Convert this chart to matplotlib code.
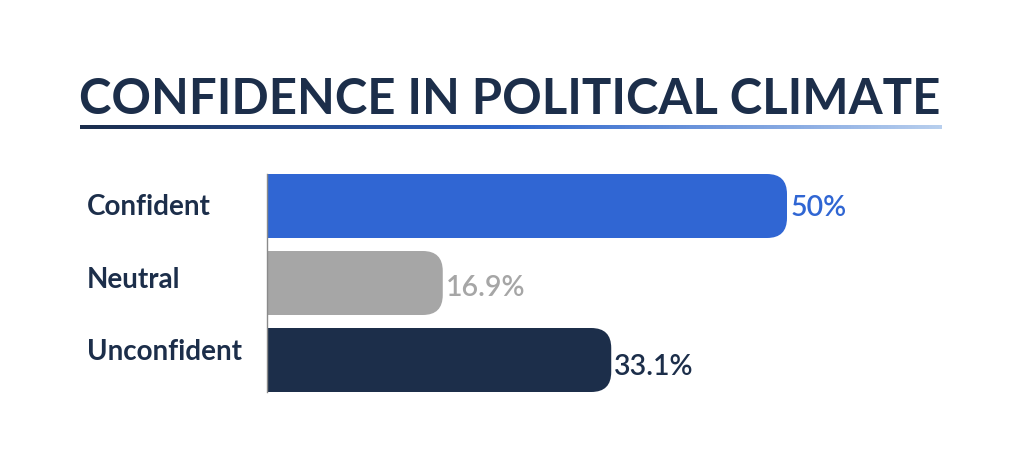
import matplotlib.pyplot as plt
import numpy as np
from matplotlib.patches import FancyBboxPatch, Rectangle
from matplotlib.colors import LinearSegmentedColormap

# data
categories = ["Confident", "Neutral", "Unconfident"]
values = [50, 16.9, 33.1]
value_labels = ["50%", "16.9%", "33.1%"]
bar_colors = ["#3066d3", "#a6a6a6", "#1c2e4a"]
navy = "#1c2e4a"

plt.rcParams['font.family'] = ['Lato', 'DejaVu Sans']

W, H = 1024, 472
fig = plt.figure(figsize=(W / 100, H / 100), dpi=100)

# title
fig.text(510 / W, 1 - 99 / H, "CONFIDENCE IN POLITICAL CLIMATE", ha="center", va="center",
         fontsize=35.3, fontweight="bold", color=navy)

# gradient underline
ax_line = fig.add_axes([80 / W, 1 - 129 / H, 862 / W, 4 / H])
cmap = LinearSegmentedColormap.from_list("ul", [(0, "#1b2d4b"), (0.5, "#2f66cc"), (1, "#b8cfee")])
ax_line.imshow(np.linspace(0, 1, 256)[None, :], aspect="auto", cmap=cmap)
ax_line.axis("off")

# bars
px_x = 520 / 50          # pixels per percent
px_y = 77                # pixels per bar slot
ax_left, ax_right = 267, 967
top, bottom = 174, 392
bar_h = 64 / 77
ax = fig.add_axes([ax_left / W, 1 - bottom / H, (ax_right - ax_left) / W, (bottom - top) / H])
ax.set_xlim(0, (ax_right - ax_left) / px_x)
ax.set_ylim(len(categories) - 1 + bar_h / 2, -bar_h / 2)
ax.axis("off")

label_y = [207, 280, 352]   # category label centres in pixels
r_px = 20
rx = r_px / px_x
aspect = (1 / px_y) / (1 / px_x)
for i, (v, c) in enumerate(zip(values, bar_colors)):
    ax.add_patch(FancyBboxPatch((0, i - bar_h / 2), v, bar_h,
                                boxstyle=f"round,pad=0,rounding_size={rx}",
                                mutation_aspect=aspect, fc=c, ec="none"))
    ax.add_patch(Rectangle((0, i - bar_h / 2), v - rx, bar_h, fc=c, ec="none"))
    ax.text(v + 0.3, i + 0.03 * (i + 1), value_labels[i], ha="left", va="center",
            fontsize=20.5, color=c, fontweight="semibold")
    fig.text(87 / W, 1 - label_y[i] / H, categories[i],
             ha="left", va="center", fontsize=20, fontweight="bold", color=navy)

ax.plot([0, 0], [-bar_h / 2, len(categories) - 1 + bar_h / 2], color="#8a8a8a", lw=1,
        clip_on=False)

plt.savefig("out.png", dpi=100)
